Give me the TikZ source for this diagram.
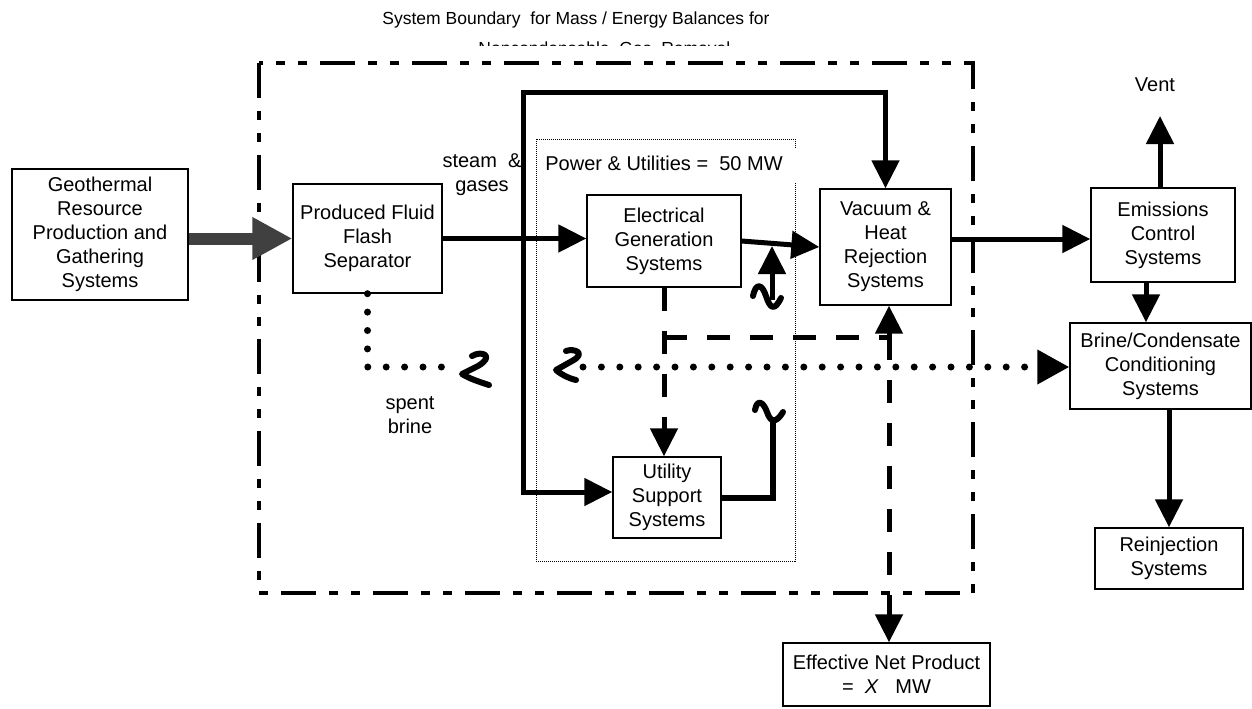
\documentclass[tikz,border=0pt]{standalone}
\usepackage{fontspec}
\setmainfont{Liberation Sans}
\usetikzlibrary{arrows.meta}
\begin{document}
\begin{tikzpicture}[x=0.5pt,y=-0.5pt,
  box/.style={draw,line width=0.7pt,align=center,inner sep=0pt,font=\fontsize{10}{12}\selectfont},
  lbl/.style={align=center,inner sep=0pt,font=\fontsize{10}{12}\selectfont},
  ttl/.style={inner sep=0pt,font=\fontsize{8.75}{10.5}\selectfont},
  arr/.style={-{Triangle[length=14pt,width=13.5pt]}},
  thk/.style={line width=2.5pt},
  dsh/.style={line width=2.5pt,dash pattern=on 11.5pt off 10pt},
  dotl/.style={line width=3.5pt,line cap=round,dash pattern=on 0pt off 9.2pt},
  sysbound/.style={line width=2pt,dash pattern=on 17.5pt off 6.5pt on 4.5pt off 6.5pt on 4.5pt off 6.5pt},
  wig/.style={line width=3pt,line cap=round,line join=round},
  pubox/.style={line width=0.5pt,dash pattern=on 0.5pt off 0.5pt}]
\useasboundingbox (0,0) rectangle (1252,708);

% title
\node[ttl,anchor=base] (title) at (576,24) {System Boundary\ \ for Mass / Energy Balances for};
\begin{scope}
\clip (0,0) rectangle (1252,45);
\node[ttl,anchor=base west] (title2) at (478,54) {Noncondensable\ \ Gas\ \ Removal};
\end{scope}

% system boundary
\draw[sysbound] (259,63) rectangle (973,593);
% power & utilities box
\draw[pubox] (795,148) -- (795,139) -- (536,139) -- (536,561) -- (795,561) -- (795,183);

% nodes
\node[box,minimum width=88pt,minimum height=65.5pt] (geo) at (100,234.5) {Geothermal\\Resource\\Production and\\Gathering\\Systems};
\node[box,minimum width=74.5pt,minimum height=54.5pt] (sep) at (367.5,238.5) {Produced Fluid\\Flash\\Separator};
\node[box,minimum width=77pt,minimum height=46pt] (elec) at (664,241) {Electrical\\Generation\\Systems};
\node[box,minimum width=65.5pt,minimum height=58pt] (vac) at (885.5,247) {Vacuum \&\\Heat\\Rejection\\Systems};
\node[box,minimum width=72pt,minimum height=47pt] (emis) at (1163,235) {Emissions\\Control\\Systems};
\node[box,minimum width=90.5pt,minimum height=43pt] (brine) at (1160.5,366) {Brine/Condensate\\Conditioning\\Systems};
\node[box,minimum width=54pt,minimum height=40.5pt] (util) at (667,497.5) {Utility\\Support\\Systems};
\node[box,minimum width=74pt,minimum height=30.5pt] (reinj) at (1169,558.5) {Reinjection\\Systems};
\node[box,minimum width=103.5pt,minimum height=31.5pt] (eff) at (886.5,674.5) {Effective Net Product\\= \ \textit{X}\ \ \ MW};
\node[lbl] (vent) at (1155,85) {Vent};
\node[lbl] (steam) at (482,175) {steam\ \ \&\\gases};
\node[lbl] (spent) at (410,415) {spent\\brine};
\node[lbl,anchor=west] (pu) at (545,163) {Power \& Utilities =\ \ 50 MW};

% main flows
\draw[line width=6pt,black!75,-{Triangle[length=20pt,width=20pt]}] (geo.east |- sep.west) -- (sep.west);
\draw[thk,arr] (sep.east) -- (sep.east -| elec.west);
\coordinate (j) at (523,240);
\coordinate (lt) at (523,92);
\coordinate (lb) at (523,492);
\draw[thk,arr] (j) -- (lt) -| (vac.north);
\draw[thk,arr] (j) -- (lb) -- (lb -| util.west);
\draw[thk,arr] (elec.east) -- (vac.west);
\coordinate (ve) at (951,239);
\draw[thk,arr] (ve) -- (ve -| emis.west);
\coordinate (vt) at (1160,116);
\draw[thk,arr] (vt |- emis.north) -- (vt);
\coordinate (eb) at (1146,282);
\draw[thk,arr] (eb) -- (eb |- brine.north);
\draw[thk,arr] (reinj.north |- brine.south) -- (reinj.north);

% double arrow with wiggle
\coordinate (t1) at (772,246);
\coordinate (t0) at (772,300);
\draw[thk,arr] (t0) -- (t1);
\draw[wig] (753,296) .. controls (756,282) and (762,284) .. (766,296) .. controls (770,308) and (774,312) .. (781,298);

% utility output
\coordinate (u2) at (773,418);
\draw[line width=3pt] (util.east) -| (u2);
\draw[wig] (755,410) .. controls (757,399) and (763,401) .. (767,412) .. controls (770,421) and (775,425) .. (783,412);

% dashed power lines
\coordinate (d1) at (664,337);
\coordinate (d2) at (889,337);
\draw[dsh,arr] (elec.south) -- (elec.south |- util.north);
\draw[dsh] (d1) -- (d2);
\draw[thk,arr] (d2) -- (d2 |- vac.south);
\draw[dsh,arr] (d2) -- (d2 |- eff.north);

% dotted brine lines
\coordinate (c1) at (367.5,367);
\coordinate (c2) at (457,367);
\draw[dotl] (sep.south) -- (c1) -- (c2);
\draw[wig] (472,356) .. controls (482,350) and (495,356) .. (478,366) -- (462,374) .. controls (470,379) and (480,382) .. (489,385);
\coordinate (c3) at (583,367);
\draw[wig] (566,351) .. controls (574,348) and (587,353) .. (572,361) -- (556,370) .. controls (562,375) and (568,378) .. (576,380);
\draw[dotl,-{Triangle[length=16pt,width=16.5pt]}] (c3) -- (c3 -| brine.west);
\end{tikzpicture}
\end{document}
